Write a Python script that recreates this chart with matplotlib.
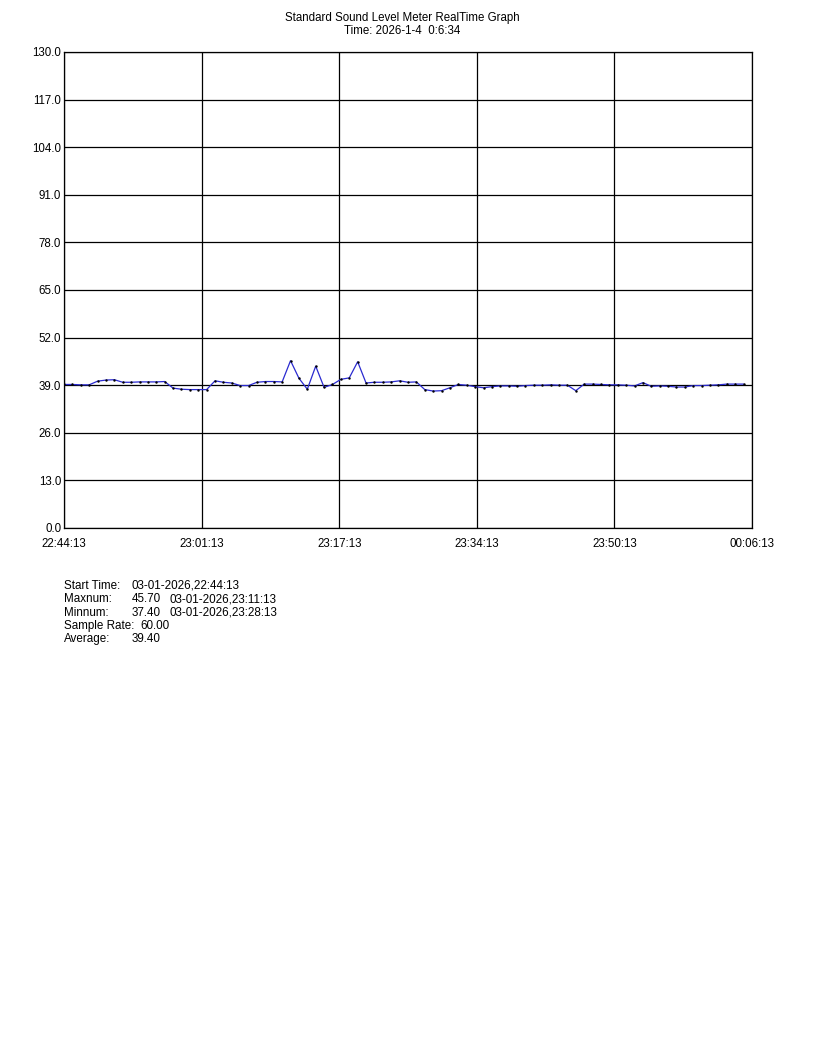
import matplotlib
matplotlib.use('Agg')
import matplotlib.pyplot as plt

plt.rcParams['font.family'] = ['Liberation Sans', 'DejaVu Sans']

# one reading per minute, starting 22:44:13
levels = [
    39.2, 39.2, 39.1, 39.1, 40.1, 40.4, 40.5, 39.8, 39.8, 39.9,
    39.9, 39.9, 40.0, 38.2, 37.9, 37.8, 37.8, 37.8, 40.2, 39.8,
    39.6, 38.9, 38.9, 39.8, 40.0, 40.0, 39.9, 45.7, 40.9, 37.9,
    44.2, 38.4, 39.2, 40.6, 41.0, 45.4, 39.6, 39.8, 39.8, 39.9,
    40.2, 39.8, 39.9, 37.8, 37.4, 37.5, 38.3, 39.2, 39.0, 38.6,
    38.3, 38.6, 38.8, 38.8, 38.7, 38.9, 39.0, 39.0, 39.1, 39.0,
    39.0, 37.5, 39.3, 39.3, 39.2, 39.1, 39.1, 39.0, 38.8, 39.7,
    38.7, 38.8, 38.7, 38.5, 38.5, 38.9, 38.9, 39.0, 39.1, 39.3,
    39.3, 39.3,
]
minutes = list(range(len(levels)))

total_minutes = 82
x_tick_labels = ['22:44:13', '23:01:13', '23:17:13', '23:34:13', '23:50:13', '00:06:13']
y_ticks = [0.0, 13.0, 26.0, 39.0, 52.0, 65.0, 78.0, 91.0, 104.0, 117.0, 130.0]

title_lines = 'Standard Sound Level Meter RealTime Graph\nTime: 2026-1-4  0:6:34'
info_labels = ['Start Time:', 'Maxnum:', 'Minnum:', 'Sample Rate:', 'Average:']
info_values = ['03-01-2026,22:44:13', '45.70', '37.40', '60.00', '39.40']
info_dates = ['', '03-01-2026,23:11:13', '03-01-2026,23:28:13', '', '']

fig = plt.figure(figsize=(8.16, 10.56), dpi=100)
ax = fig.add_axes([64 / 816, 0.5, 688 / 816, 476 / 1056])

x_ticks = [total_minutes * k / 5 for k in range(6)]
ax.set_xlim(0, total_minutes)
ax.set_ylim(0, 130)
ax.set_xticks(x_ticks)
ax.set_xticklabels(x_tick_labels)
ax.set_yticks(y_ticks)
ax.set_yticklabels([f'{v:.1f}' for v in y_ticks])
ax.grid(True, color='black', linewidth=0.9)
ax.set_axisbelow(True)
ax.tick_params(length=0, labelsize=8.3)
ax.tick_params(axis='x', pad=7)
ax.tick_params(axis='y', pad=2)
for sp in ax.spines.values():
    sp.set_color('black')
    sp.set_linewidth(0.9)

ax.plot(minutes, levels, color='#2a2ad0', linewidth=0.9,
        marker='s', markersize=0.7, markerfacecolor='black',
        markeredgecolor='black', zorder=3)

fig.text(402 / 816, 1 - 12 / 1056, title_lines, ha='center', va='top',
         fontsize=8.3, linespacing=1.1)

for i, lab in enumerate(info_labels):
    y = 1 - (586 + i * 13.3) / 1056
    fig.text(64 / 816, y, lab, ha='left', va='center', fontsize=8.4)
    x_val = 140 if lab == 'Sample Rate:' else 132
    fig.text(x_val / 816, y, info_values[i], ha='left', va='center', fontsize=8.4)
    if info_dates[i]:
        fig.text(170 / 816, y, info_dates[i], ha='left', va='center', fontsize=8.4)

fig.savefig('out.png', dpi=100)
